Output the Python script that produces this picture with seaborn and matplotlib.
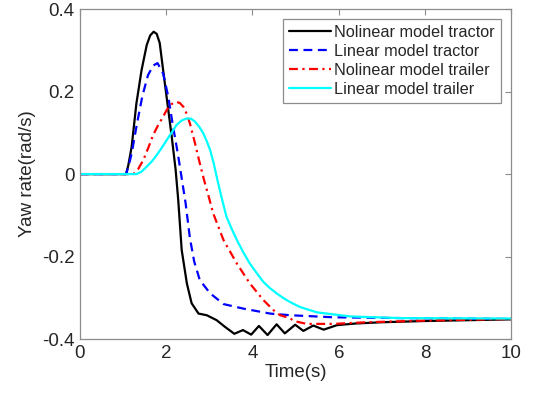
import numpy as np
import pandas as pd
import seaborn as sns
import matplotlib
matplotlib.use("Agg")
import matplotlib.pyplot as plt

# ---- datos ----
t_nl_tractor = [0, 1.07, 1.12, 1.2, 1.31, 1.43, 1.55, 1.63, 1.71, 1.78, 1.85, 1.93, 2.03, 2.13,
                2.22, 2.28, 2.36, 2.48, 2.59, 2.75, 2.94, 3.17, 3.36, 3.58, 3.78, 3.97, 4.15,
                4.35, 4.56, 4.75, 4.99, 5.18, 5.41, 5.65, 5.96, 6.4, 7.0, 8.0, 9.0, 10.0]
r_nl_tractor = [0, 0, 0.02, 0.066, 0.171, 0.252, 0.313, 0.336, 0.345, 0.340, 0.318, 0.252, 0.171, 0.09,
                0.01, -0.063, -0.184, -0.265, -0.313, -0.338, -0.342, -0.354, -0.370, -0.387, -0.378, -0.389, -0.368,
                -0.390, -0.364, -0.386, -0.365, -0.380, -0.367, -0.377, -0.366, -0.362, -0.359, -0.356, -0.354, -0.352]

t_l_tractor = [0, 1.07, 1.13, 1.2, 1.32, 1.45, 1.58, 1.7, 1.8, 1.93, 2.05, 2.16, 2.27, 2.36,
               2.45, 2.55, 2.65, 2.78, 3.02, 3.33, 3.79, 4.41, 4.87, 5.88, 7.5, 10.0]
r_l_tractor = [0, 0, 0.02, 0.05, 0.12, 0.19, 0.24, 0.263, 0.269, 0.244, 0.187, 0.115, 0.05, -0.01,
               -0.07, -0.155, -0.212, -0.257, -0.289, -0.315, -0.326, -0.338, -0.342, -0.347, -0.349, -0.351]

t_nl_trailer = [0, 1.24, 1.35, 1.47, 1.58, 1.70, 1.82, 1.93, 2.01, 2.09, 2.16, 2.24, 2.32, 2.40,
                2.48, 2.55, 2.67, 2.78, 2.88, 3.0, 3.09, 3.33, 3.64, 3.94, 4.25, 4.49, 4.64,
                4.83, 5.0, 5.26, 5.88, 6.65, 8.0, 10.0]
r_nl_trailer = [0, 0, 0.012, 0.034, 0.062, 0.095, 0.12, 0.139, 0.155, 0.167, 0.172, 0.175, 0.172, 0.163,
                0.145, 0.123, 0.074, 0.026, -0.015, -0.06, -0.095, -0.16, -0.217, -0.265, -0.305, -0.33, -0.342,
                -0.348, -0.357, -0.363, -0.363, -0.359, -0.355, -0.351]

t_l_trailer = [0, 1.31, 1.43, 1.55, 1.67, 1.78, 1.9, 2.01, 2.13, 2.24, 2.36, 2.48, 2.58, 2.67,
               2.77, 2.86, 2.94, 3.02, 3.1, 3.17, 3.28, 3.4, 3.52, 3.64, 3.79, 3.94, 4.1,
               4.25, 4.4, 4.56, 4.71, 4.87, 5.1, 5.49, 6.27, 7.43, 10.0]
r_l_trailer = [0, 0, 0.006, 0.018, 0.031, 0.046, 0.064, 0.082, 0.101, 0.119, 0.13, 0.135, 0.134, 0.127,
               0.114, 0.099, 0.08, 0.058, 0.027, -0.006, -0.055, -0.104, -0.133, -0.16, -0.19, -0.217, -0.24,
               -0.261, -0.276, -0.289, -0.30, -0.31, -0.322, -0.335, -0.345, -0.349, -0.35]

nombres = ['Nolinear model tractor', 'Linear model tractor',
           'Nolinear model trailer', 'Linear model trailer']
colores = ['#000000', '#0000ff', '#ff0000', '#00ffff']
trazos = ['', (4, 2.5), (4, 2, 1, 2), '']

series = [(t_nl_tractor, r_nl_tractor), (t_l_tractor, r_l_tractor),
          (t_nl_trailer, r_nl_trailer), (t_l_trailer, r_l_trailer)]
df = pd.concat([pd.DataFrame({'t': t, 'r': r, 'serie': n})
                for (t, r), n in zip(series, nombres)], ignore_index=True)

# ---- grafico ----
sns.set_style("white")
plt.rcParams['font.family'] = ['Liberation Sans', 'DejaVu Sans']

fig = plt.figure(figsize=(5.36, 3.93), dpi=100)
ax = fig.add_axes([0.149, 0.137, 0.805, 0.840])

sns.lineplot(data=df, x='t', y='r', hue='serie', style='serie',
             hue_order=nombres, style_order=nombres,
             palette=dict(zip(nombres, colores)), dashes=dict(zip(nombres, trazos)),
             estimator=None, sort=False, linewidth=1.6, ax=ax)

ax.set_xlim(0, 10)
ax.set_ylim(-0.4, 0.4)
ax.set_xticks([0, 2, 4, 6, 8, 10])
ax.set_yticks([-0.4, -0.2, 0, 0.2, 0.4])
ax.set_yticklabels(['-0.4', '-0.2', '0', '0.2', '0.4'])
ax.set_xlabel('Time(s)', fontsize=13.5, color='#262626', labelpad=2)
ax.set_ylabel('Yaw rate(rad/s)', fontsize=13.5, color='#262626', labelpad=4)
ax.tick_params(direction='in', length=4, width=0.8, top=True, right=True,
               labelsize=13.5, colors='#262626', color='#8c8c8c', pad=4)
for s in ax.spines.values():
    s.set_color('#8c8c8c')
    s.set_linewidth(0.9)

leg = ax.legend(loc='upper right', bbox_to_anchor=(0.975, 0.97), fontsize=11.7,
                frameon=True, fancybox=False, edgecolor='#8c8c8c', framealpha=1,
                handlelength=2.6, handletextpad=0.2, labelspacing=0.25,
                borderpad=0.35, borderaxespad=0)
leg.get_frame().set_linewidth(0.9)

plt.savefig('out.png', dpi=100)
